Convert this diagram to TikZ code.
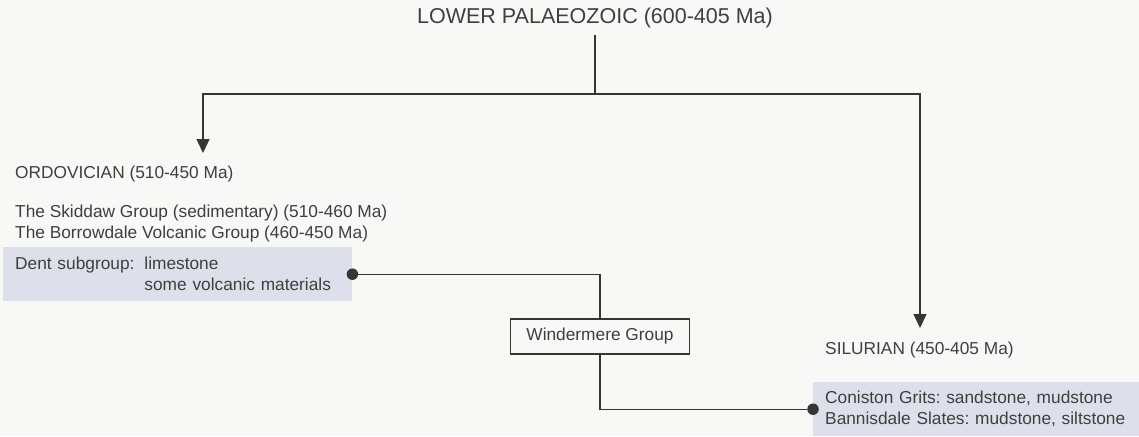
\documentclass[tikz,border=0pt]{standalone}
\usepackage{fontspec}
\setmainfont{Liberation Sans}
\usetikzlibrary{positioning,arrows.meta,calc}
\definecolor{ink}{RGB}{62,64,62}
\definecolor{wire}{RGB}{52,56,52}
\definecolor{slate}{RGB}{221,224,234}
\definecolor{paper}{RGB}{248,248,247}
\frenchspacing

\begin{document}
\begin{tikzpicture}[x=1pt,y=-1pt,font=\fontsize{17.3}{21}\selectfont,text=ink,
  link/.style={draw=wire,line width=1.4pt},
  arr/.style={link,-{Triangle[length=14pt,width=13pt]}},
  blob/.style={circle,fill=wire,inner sep=0pt,minimum size=11.5pt},
  period/.style={anchor=west,inner sep=0pt,align=left},
  rockbox/.style={fill=slate,anchor=north west,minimum height=54pt,align=left,inner xsep=12pt,inner ysep=0pt}]
  \useasboundingbox[fill=paper] (0,0) rectangle (1139,436);
  % era and its two periods
  \node[font=\fontsize{21.5}{24}\selectfont,inner xsep=0pt,inner ysep=7pt] (title) at (595,18) {LOWER PALAEOZOIC (600-405 Ma)};
  \coordinate (fork) at (595,94);
  \coordinate (ordtip) at (203,153);
  \coordinate (siltip) at (920,328);
  \draw[link] (title.south) -- (fork);
  \draw[arr] (fork) -| (ordtip);
  \draw[arr] (fork) -| (siltip);
  % ordovician side
  \node[period] (ordo) at (15,174) {ORDOVICIAN (510-450 Ma)};
  \node[period] (groups) at (15,224) {The Skiddaw Group (sedimentary) (510-460 Ma)\\The Borrowdale Volcanic Group (460-450 Ma)};
  \node[rockbox,text width=325pt] (dent) at (3,247) {Dent subgroup:\hspace{10pt}limestone\\\hphantom{Dent subgroup:\hspace{10pt}}some volcanic materials};
  % silurian side
  \node[period] (silu) at (825,350) {SILURIAN (450-405 Ma)};
  \node[rockbox,text width=302pt] (coni) at (813,382) {Coniston Grits: sandstone, mudstone\\Bannisdale Slates: mudstone, siltstone};
  % windermere link
  \node[draw=wire,line width=1.2pt,minimum width=179pt,minimum height=35pt,inner sep=0pt] (winder) at (600,336.5) {Windermere Group};
  \node[blob] (dentdot) at (dent.east) {};
  \node[blob] (conidot) at (coni.west) {};
  \draw[link] (dentdot) -| (winder.north);
  \draw[link] (winder.south) |- (conidot);
\end{tikzpicture}
\end{document}
